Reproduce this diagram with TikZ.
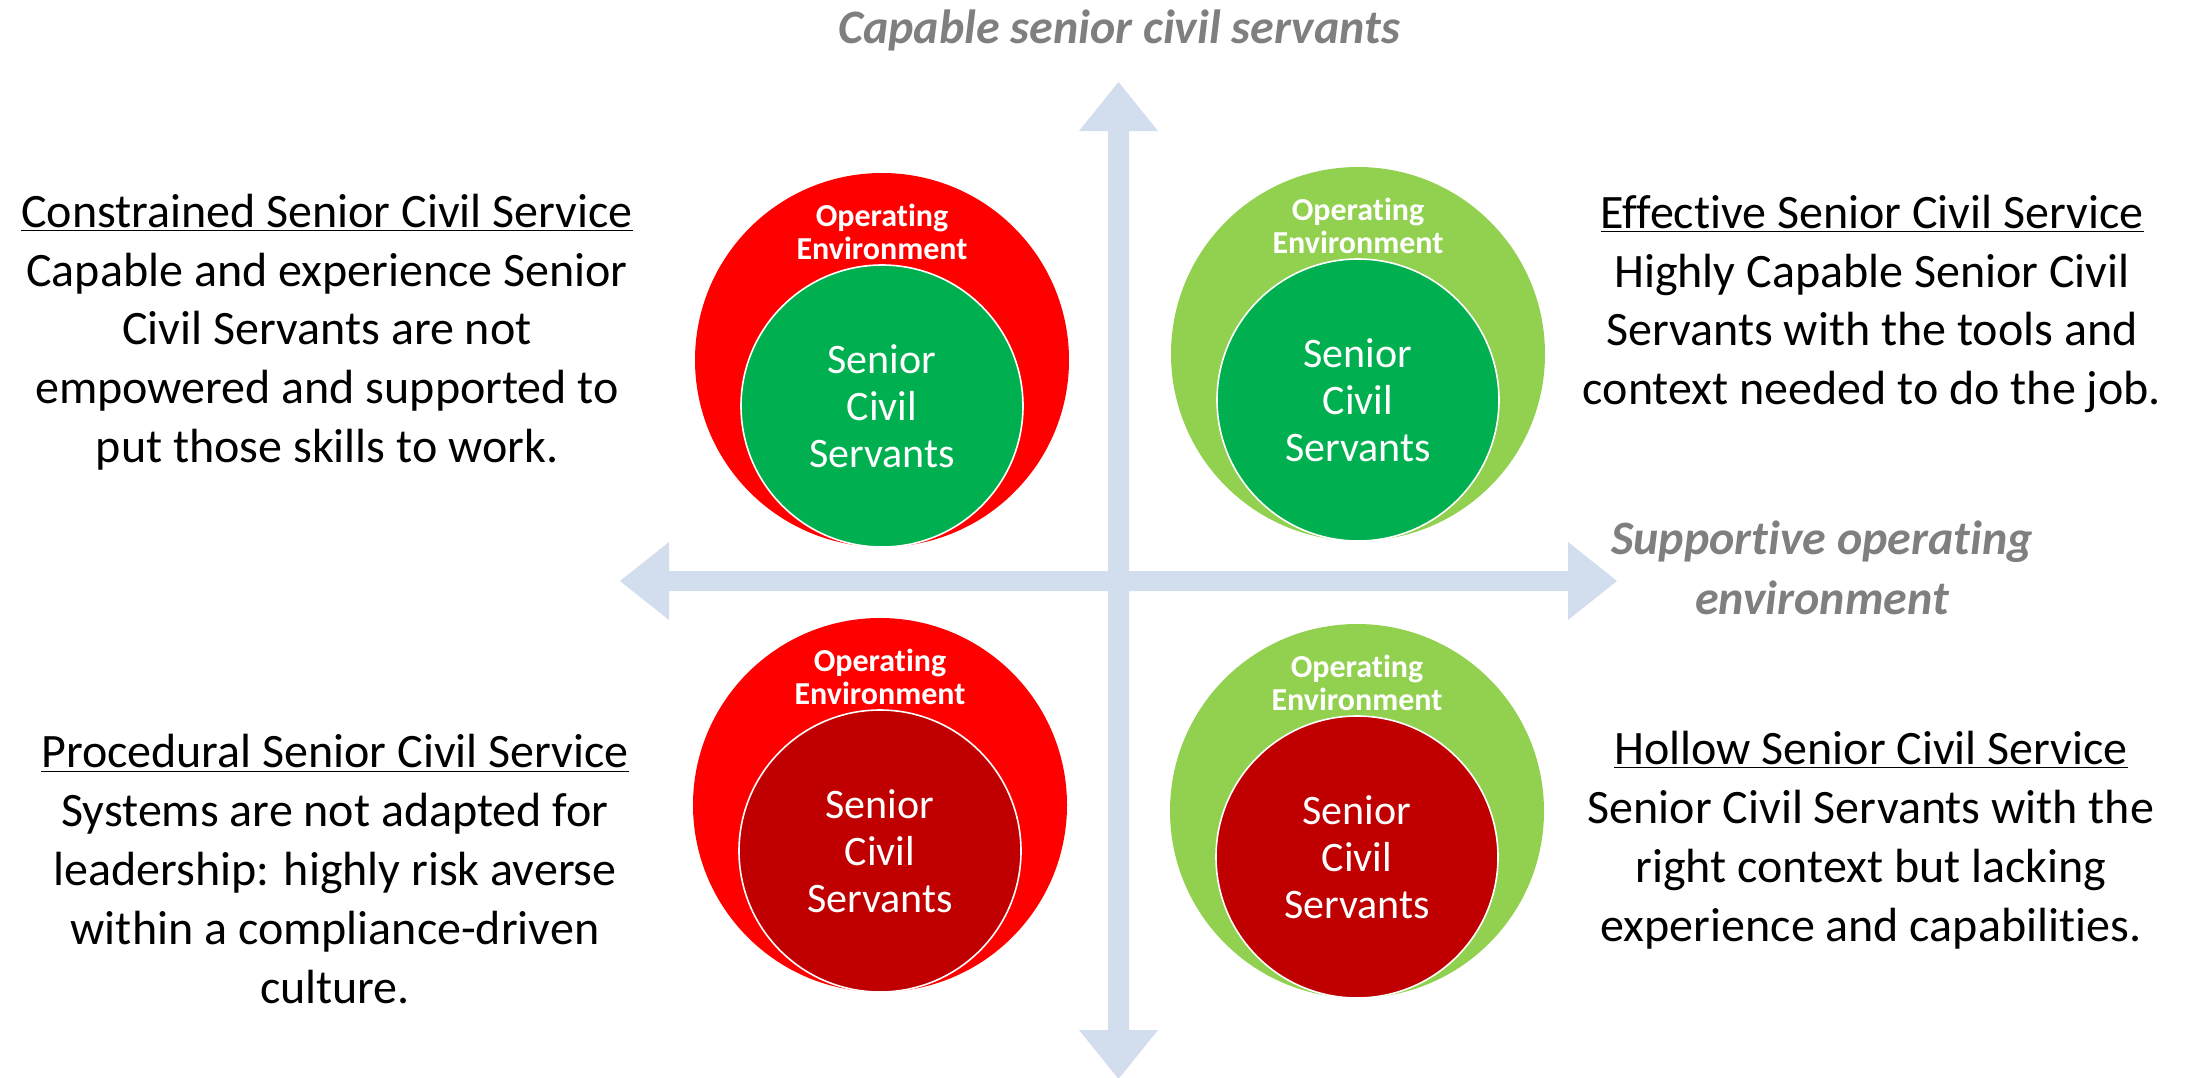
\documentclass[tikz,border=0pt]{standalone}
\usepackage{fontspec}
\setmainfont[Ligatures=NoCommon]{Carlito}
\definecolor{envred}{HTML}{FF0000}
\definecolor{envgreen}{HTML}{92D050}
\definecolor{scsgreen}{HTML}{00B050}
\definecolor{scsred}{HTML}{C00000}
\definecolor{axisblue}{HTML}{D2DDEE}
\definecolor{axisgray}{HTML}{7F7F7F}
\begin{document}
\begin{tikzpicture}[x=0.5pt,y=-0.5pt,
  outerc/.style={circle, inner sep=0pt, minimum size=187pt},
  innerc/.style={circle, inner sep=0pt, minimum size=141pt, draw=white, line width=0.8pt},
  envtext/.style={text=white, font=\bfseries\fontsize{16}{16.5}\selectfont, align=center, inner sep=0pt},
  scstext/.style={text=white, font=\fontsize{21}{23.5}\selectfont, align=center, inner sep=0pt},
  corner/.style={font=\fontsize{24}{29.4}\selectfont, align=center, text=black, inner sep=0pt},
  axislabel/.style={text=axisgray, font=\bfseries\itshape\fontsize{24}{30}\selectfont, align=center, inner sep=0pt}]
\useasboundingbox (0,0) rectangle (2191,1077);

% axes
\fill[axisblue] (1108,131) -- (1079,131) -- (1118.5,82) -- (1158,131) -- (1129,131)
  -- (1129,1030) -- (1158,1030) -- (1118.5,1079) -- (1079,1030) -- (1108,1030) -- cycle;
\fill[axisblue] (669,571) -- (669,542) -- (620,581) -- (669,620) -- (669,591)
  -- (1568,591) -- (1568,620) -- (1617,581) -- (1568,542) -- (1568,571) -- cycle;

% axis labels
\node[axislabel] (ylab) at (1119,30) {Capable senior civil servants};
\node[axislabel] (xlab) at (1822,568) {Supportive operating\\environment};

% circles
\node[outerc, fill=envred] (otl) at (882,360) {};
\node[innerc, fill=scsgreen] (itl) at (882,406) {};
\node[envtext] (etl) at (882,232) {Operating\\Environment};
\node[scstext] (stl) at (882,406) {Senior\\Civil\\Servants};

\node[outerc, fill=envgreen] (otr) at (1358,354) {};
\node[innerc, fill=scsgreen] (itr) at (1358,400) {};
\node[envtext] (etr) at (1358,226) {Operating\\Environment};
\node[scstext] (str) at (1358,400) {Senior\\Civil\\Servants};

\node[outerc, fill=envred] (obl) at (880,805) {};
\node[innerc, fill=scsred] (ibl) at (880,851) {};
\node[envtext] (ebl) at (880,677) {Operating\\Environment};
\node[scstext] (sbl) at (880,851) {Senior\\Civil\\Servants};

\node[outerc, fill=envgreen] (obr) at (1357,811) {};
\node[innerc, fill=scsred] (ibr) at (1357,857) {};
\node[envtext] (ebr) at (1357,683) {Operating\\Environment};
\node[scstext] (sbr) at (1357,857) {Senior\\Civil\\Servants};

% corner texts
\node[corner] (ctl) at (327,332) {\underline{Constrained Senior Civil Service}\\Capable and experience Senior\\Civil Servants are not\\empowered and supported to\\put those skills to work.};
\node[corner] (ctr) at (1872,304) {\underline{Effective Senior Civil Service}\\Highly Capable Senior Civil\\Servants with the tools and\\context needed to do the job.};
\node[corner] (cbl) at (335,869) {\underline{Procedural Senior Civil Service}\\Systems are not adapted for\\leadership: highly risk averse\\within a compliance-driven\\culture.};
\node[corner] (cbr) at (1871,840) {\underline{Hollow Senior Civil Service}\\Senior Civil Servants with the\\right context but lacking\\experience and capabilities.};
\end{tikzpicture}
\end{document}
